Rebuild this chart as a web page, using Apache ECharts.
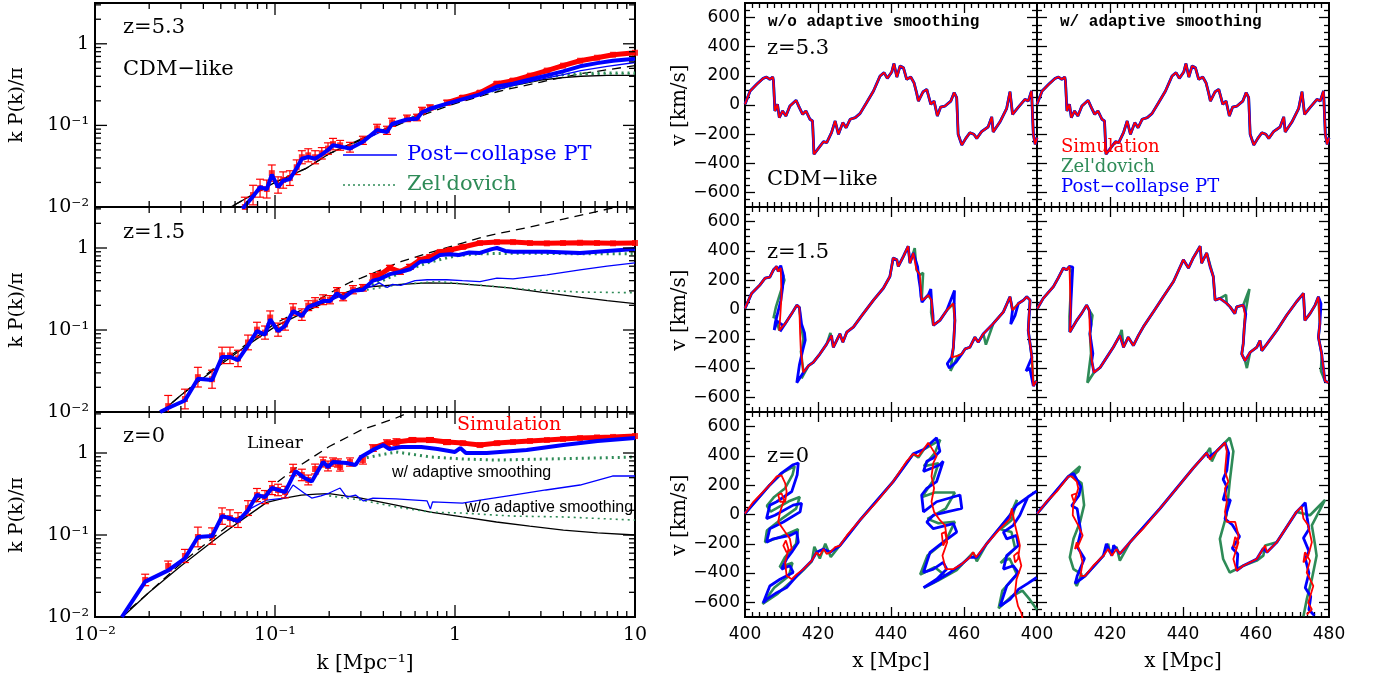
<!DOCTYPE html>
<html><head><meta charset="utf-8">
<script src="https://cdn.jsdelivr.net/npm/echarts@6/dist/echarts.min.js"></script>
<style>html,body{margin:0;padding:0;background:#fff}#c{width:1373px;height:682px}</style>
</head><body><div id="c"></div>
<script>
// ---------------- LEFT COLUMN DATA : k [1/Mpc], k P(k)/pi ----------------
// z = 5.3
const linear53 = [[0.05,0.0085],[0.07,0.013],[0.1,0.02],[0.15,0.03],[0.2,0.045],[0.3,0.066],[0.5,0.105],[0.7,0.14],[1,0.185],[1.5,0.24],[2,0.28],[3,0.34],[4,0.39],[5,0.43],[7,0.48],[10,0.54]];
const zelA53 = [[0.05,0.0085],[0.07,0.013],[0.1,0.02],[0.15,0.03],[0.2,0.045],[0.3,0.068],[0.5,0.11],[0.7,0.15],[1,0.2],[1.5,0.26],[2,0.3],[3,0.36],[4,0.385],[5,0.4],[7,0.41],[10,0.41]];
const sim53 = [[0.068,0.010],[0.0755,0.014],[0.0826,0.017],[0.090,0.0166],[0.096,0.026],[0.104,0.0186],[0.111,0.0214],[0.121,0.0226],[0.132,0.0307],[0.141,0.0407],[0.153,0.043],[0.167,0.0407],[0.182,0.0455],[0.197,0.052],[0.21,0.059],[0.23,0.057],[0.261,0.054],[0.308,0.0656],[0.369,0.092],[0.419,0.087],[0.447,0.109],[0.541,0.122],[0.615,0.125],[0.656,0.152],[0.726,0.166],[0.903,0.19],[1.107,0.219],[1.376,0.252],[1.71,0.325],[2.1,0.354],[2.61,0.407],[3.24,0.47],[3.98,0.54],[4.95,0.62],[6.15,0.675],[7.55,0.734],[10,0.777]];
const err53 = [0.12,0.12,0.11,0.11,0.1,0.1,0.1,0.09,0.09,0.08,0.08,0.08,0.07,0.07,0.07,0.06,0.06,0.05,0.05,0.05,0.05,0.04,0.04,0.04,0.03,0.03,0.025,0.02,0.02,0.02,0.015,0.015,0.01,0.01,0.01,0.01,0.01];
const pcThick53 = [[0.066,0.0095],[0.0755,0.0135],[0.0826,0.0175],[0.09,0.0165],[0.096,0.025],[0.104,0.0175],[0.111,0.021],[0.121,0.022],[0.132,0.03],[0.141,0.039],[0.153,0.041],[0.167,0.039],[0.182,0.044],[0.197,0.05],[0.21,0.057],[0.23,0.055],[0.261,0.052],[0.308,0.063],[0.369,0.088],[0.419,0.083],[0.447,0.104],[0.541,0.118],[0.615,0.121],[0.656,0.145],[0.726,0.16],[0.903,0.185],[1.107,0.21],[1.376,0.24],[1.71,0.3],[2.1,0.325],[2.61,0.365],[3.24,0.41],[3.98,0.46],[4.95,0.53],[6.15,0.58],[7.55,0.62],[10,0.656]];
const pcThin53 = [[0.3,0.063],[0.5,0.11],[0.8,0.165],[1,0.195],[1.5,0.25],[2,0.3],[3,0.37],[4,0.42],[5,0.47],[7,0.53],[10,0.59]];
const zelThick53 = [[0.5,0.11],[1,0.2],[2,0.3],[3,0.38],[4,0.42],[5,0.43],[7,0.44],[10,0.44]];
const zelThin53 = [[0.5,0.11],[1,0.2],[2,0.3],[3,0.37],[4,0.41],[5,0.42],[7,0.43],[10,0.43]];
// z = 1.5
const linear15 = [[0.02,0.0075],[0.03,0.016],[0.05,0.04],[0.07,0.068],[0.1,0.12],[0.15,0.19],[0.2,0.28],[0.26,0.38],[0.3,0.43],[0.5,0.68],[0.7,0.86],[1.1,1.15],[1.5,1.4],[2,1.6],[2.6,1.8],[4,2.25],[7,2.97],[10,3.5]];
const zelA15 = [[0.02,0.0075],[0.03,0.016],[0.05,0.038],[0.07,0.065],[0.1,0.11],[0.15,0.17],[0.2,0.23],[0.25,0.29],[0.3,0.33],[0.5,0.36],[0.7,0.375],[1,0.37],[1.5,0.345],[2,0.327],[3,0.29],[5,0.25],[7,0.228],[10,0.21]];
const sim15 = [[0.0255,0.0118],[0.0316,0.0144],[0.0373,0.0266],[0.0447,0.0251],[0.0508,0.049],[0.0562,0.049],[0.0623,0.045],[0.0708,0.0705],[0.0794,0.101],[0.088,0.093],[0.094,0.142],[0.104,0.101],[0.1137,0.117],[0.126,0.178],[0.141,0.154],[0.153,0.198],[0.167,0.216],[0.185,0.234],[0.202,0.234],[0.221,0.293],[0.239,0.255],[0.271,0.31],[0.308,0.327],[0.35,0.445],[0.383,0.471],[0.435,0.573],[0.495,0.512],[0.562,0.589],[0.64,0.716],[0.726,0.778],[0.826,0.895],[0.938,0.946],[1.107,1.03],[1.376,1.15],[1.71,1.18],[2.1,1.18],[2.61,1.15],[3.24,1.14],[3.98,1.15],[4.95,1.16],[6.15,1.15],[7.55,1.14],[10,1.15]];
const err15 = [0.13,0.12,0.12,0.11,0.1,0.1,0.1,0.09,0.09,0.08,0.08,0.08,0.07,0.07,0.07,0.06,0.06,0.06,0.05,0.05,0.05,0.05,0.04,0.04,0.04,0.03,0.03,0.03,0.03,0.025,0.02,0.02,0.02,0.015,0.015,0.01,0.01,0.01,0.01,0.01,0.01,0.01,0.01];
const pcThick15 = [[0.023,0.01],[0.0255,0.0112],[0.0316,0.0138],[0.0373,0.0255],[0.0447,0.0245],[0.0508,0.047],[0.0562,0.047],[0.0623,0.043],[0.0708,0.065],[0.0794,0.097],[0.088,0.088],[0.094,0.135],[0.104,0.097],[0.1137,0.112],[0.126,0.17],[0.141,0.148],[0.153,0.19],[0.167,0.205],[0.185,0.225],[0.202,0.225],[0.221,0.28],[0.239,0.245],[0.271,0.3],[0.308,0.31],[0.35,0.4],[0.383,0.42],[0.435,0.48],[0.495,0.51],[0.562,0.55],[0.64,0.68],[0.726,0.7],[0.826,0.82],[0.938,0.84],[1.05,0.82],[1.2,0.88],[1.376,0.87],[1.6,0.97],[1.71,1.0],[1.9,0.92],[2.1,0.9],[3.24,0.9],[4.95,0.87],[6.15,0.9],[10,0.97]];
const pcThin15 = [[0.2,0.225],[0.25,0.28],[0.3,0.31],[0.35,0.345],[0.38,0.376],[0.42,0.33],[0.45,0.36],[0.5,0.35],[0.6,0.4],[0.7,0.41],[0.9,0.41],[1.1,0.4],[1.376,0.39],[1.71,0.43],[2.1,0.42],[3.24,0.47],[4.95,0.54],[7,0.6],[10,0.66]];
const zelThick15 = [[0.3,0.31],[0.5,0.5],[0.7,0.66],[1,0.8],[1.376,0.85],[2,0.86],[3,0.86],[5,0.85],[10,0.85]];
const zelThin15 = [[0.3,0.3],[0.5,0.36],[0.8,0.39],[1.2,0.36],[1.5,0.346],[2.6,0.31],[5,0.29],[10,0.285]];
// z = 0
const linear0 = [[0.0135,0.0095],[0.02,0.02],[0.03,0.045],[0.05,0.11],[0.07,0.2],[0.1,0.42],[0.13,0.65],[0.2,1.2],[0.3,1.9],[0.47,2.67],[0.55,3.1],[0.7,3.8]];
const zelA0 = [[0.0135,0.009],[0.02,0.02],[0.03,0.042],[0.05,0.1],[0.07,0.17],[0.09,0.25],[0.113,0.282],[0.14,0.307],[0.17,0.316],[0.2,0.32],[0.3,0.282],[0.47,0.232],[0.73,0.19],[1.1,0.166],[1.7,0.144],[2.6,0.128],[4,0.115],[6.2,0.106],[10,0.1]];
const sim0 = [[0.019,0.0283],[0.0255,0.0419],[0.0316,0.0555],[0.0373,0.0946],[0.0447,0.097],[0.0508,0.17],[0.0562,0.161],[0.0623,0.152],[0.0708,0.213],[0.0794,0.307],[0.088,0.29],[0.0962,0.374],[0.104,0.354],[0.1137,0.334],[0.126,0.62],[0.141,0.54],[0.153,0.469],[0.167,0.638],[0.185,0.776],[0.197,0.694],[0.21,0.776],[0.224,0.755],[0.23,0.675],[0.261,0.776],[0.308,0.822],[0.35,1.15],[0.419,1.32],[0.473,1.36],[0.58,1.44],[0.726,1.44],[0.903,1.36],[1.107,1.32],[1.376,1.25],[1.71,1.32],[2.1,1.36],[2.61,1.4],[3.24,1.44],[3.98,1.48],[4.95,1.52],[6.15,1.55],[7.55,1.57],[10,1.61]];
const err0 = [0.07,0.06,0.08,0.12,0.1,0.1,0.1,0.09,0.09,0.08,0.08,0.08,0.07,0.07,0.07,0.07,0.06,0.06,0.06,0.06,0.05,0.05,0.05,0.05,0.05,0.04,0.04,0.04,0.03,0.03,0.03,0.02,0.02,0.02,0.015,0.015,0.01,0.01,0.01,0.01,0.01,0.01];
const pcThick0 = [[0.0141,0.01],[0.019,0.027],[0.0255,0.037],[0.0316,0.052],[0.0373,0.0946],[0.0447,0.097],[0.0508,0.17],[0.0562,0.16],[0.0623,0.148],[0.0708,0.2],[0.0794,0.307],[0.088,0.29],[0.0962,0.374],[0.1137,0.334],[0.13,0.6],[0.145,0.5],[0.16,0.45],[0.185,0.776],[0.197,0.675],[0.21,0.776],[0.25,0.755],[0.28,0.714],[0.3,0.894],[0.35,1.09],[0.4,1.25],[0.43,1.12],[0.5,1.18],[0.65,1.18],[0.8,1.12],[1.0,1.03],[1.07,1.15],[1.15,1.0],[1.5,1.0],[2.5,1.09],[4,1.25],[6.2,1.4],[10,1.52]];
const pcThin0 = [[0.07,0.2],[0.09,0.267],[0.113,0.282],[0.126,0.407],[0.145,0.325],[0.16,0.282],[0.18,0.3],[0.2,0.325],[0.23,0.374],[0.25,0.29],[0.28,0.307],[0.31,0.26],[0.35,0.282],[0.47,0.275],[0.7,0.26],[0.73,0.207],[0.75,0.253],[1.1,0.245],[1.38,0.267],[2.1,0.307],[3.2,0.354],[4.95,0.407],[7.5,0.524],[10,0.524]];
const zelThick0 = [[0.3,0.85],[0.47,1.03],[0.73,0.894],[1.1,0.845],[1.7,0.82],[3.2,0.845],[6.2,0.87],[10,0.894]];
const zelThin0 = [[0.2,0.3],[0.3,0.267],[0.47,0.22],[0.73,0.19],[1.1,0.185],[2.1,0.17],[4,0.166],[10,0.152]];

// ---------------- RIGHT PANELS DATA : x [Mpc], v [km/s] ----------------
const v53 = [[400,5],[401.4,96],[403.2,142],[405.0,183],[405.9,192],[406.8,176],[407.6,192],[407.8,165],[408.2,-41],[408.9,5],[409.4,-87],[410.3,-41],[411.2,-75],[412.3,-7],[414.0,32],[414.9,-18],[415.8,-64],[416.7,-41],[417.8,-98],[418.5,-110],[418.9,-338],[420.4,-288],[421.5,-252],[422.4,-258],[423.7,-190],[424.7,-110],[425.6,-201],[426.8,-121],[427.7,-156],[428.8,-98],[430.2,-87],[431.5,-59],[433.3,16],[435.2,96],[437.0,199],[438.1,222],[439.0,183],[440.2,226],[440.8,284],[441.6,192],[442.5,268],[443.4,256],[444.3,176],[445.4,192],[446.3,153],[447.0,85],[447.5,27],[448.8,91],[449.8,107],[450.9,5],[451.8,27],[452.7,-75],[453.6,-14],[454.8,-7],[456.4,27],[457.3,85],[458.0,50],[458.4,-201],[459.4,-274],[460.5,-229],[461.6,-190],[462.7,-201],[463.5,-229],[464.8,-183],[466.6,-151],[467.6,-82],[468.0,-185],[469.9,-114],[471.7,-23],[472.6,91],[473.3,-64],[474.9,-14],[476.7,39],[477.6,27],[478.5,96],[479.0,-201],[479.5,-270],[480,-224]];

const v15Lred = [[400,7],[401.8,110],[404.1,168],[405.5,214],[406.8,221],[407.8,271],[408.7,294],[409.1,260],[409.8,283],[410.0,87],[409.4,-143],[411.0,-97],[412.8,-28],[414.2,30],[414.9,14],[415.1,-166],[415.3,-281],[416.0,-430],[417.4,-384],[418.7,-361],[420.5,-304],[422.4,-235],[423.7,-177],[424.2,-258],[425.1,-212],[426.0,-166],[426.8,-223],[427.9,-154],[429.7,-120],[432.4,-28],[435.2,64],[437.9,145],[439.7,225],[440.6,352],[441.6,340],[442.0,294],[443.4,363],[444.7,432],[445.2,317],[446.1,386],[447.0,271],[447.9,237],[448.4,64],[449.3,76],[450.2,99],[451.1,64],[451.6,-108],[453.4,-74],[455.3,-5],[457.1,41],[457.5,-74],[457.1,-258],[456.6,-327],[458.4,-315],[459.4,-304],[460.3,-269],[461.6,-258],[463.0,-189],[463.9,-223],[465.3,-166],[468.0,-97],[470.8,-16],[472.6,87],[473.3,-5],[474.9,41],[476.3,64],[477.2,87],[478.1,64],[477.6,-143],[478.1,-235],[478.6,-327],[479.0,-522],[479.8,-488]];
const v15Lblue = [[400,7],[401.8,110],[404.1,168],[405.5,214],[406.8,221],[407.8,271],[408.7,294],[409.1,260],[409.8,300],[410.5,230],[410.3,150],[409.8,60],[409.0,-20],[408.3,-90],[408.0,-140],[408.8,-80],[410.5,-110],[409.6,-150],[411,-97],[412.8,-28],[414.2,30],[414.9,14],[415.5,-100],[416.3,-160],[416.5,-210],[415.8,-280],[414.9,-380],[414.2,-500],[416,-430],[417.4,-384],[418.7,-361],[420.5,-304],[422.4,-235],[423.7,-177],[424.2,-258],[425.1,-212],[426,-166],[426.8,-223],[427.9,-154],[429.7,-120],[432.4,-28],[435.2,64],[437.9,145],[439.7,225],[440.6,352],[441.6,340],[442,294],[443.4,363],[444.7,432],[445.2,317],[446.1,386],[447.3,290],[447.6,215],[448,150],[448.2,90],[448.5,50],[449.3,76],[450.2,99],[450.9,140],[451.1,64],[451.5,-40],[451.6,-108],[453.4,-74],[455.3,-5],[457.4,130],[457.3,40],[457.5,-74],[457.1,-258],[456.6,-327],[455.4,-370],[456,-400],[457.8,-360],[459.4,-304],[460.3,-269],[461.6,-258],[463,-189],[463.9,-223],[465.3,-166],[468,-97],[470.8,-16],[472.6,87],[473.3,-5],[472.8,-100],[474,-40],[474.9,41],[476.3,64],[477.2,87],[478.1,64],[477.6,-143],[478.1,-235],[478.6,-327],[477,-420],[478,-400],[479.0,-522],[479.8,-488]];
const v15Lgreen = [[400,7],[401.8,110],[404.1,168],[405.5,214],[406.8,221],[407.8,271],[408.7,294],[409.1,260],[409.8,283],[410.8,200],[409.5,100],[408.5,20],[407.8,-60],[408.2,-40],[409.4,-143],[411,-97],[412.8,-28],[414.2,30],[414.9,14],[415.3,-100],[416,-200],[415.5,-300],[415.3,-281],[416,-430],[415.5,-470],[417.4,-384],[418.7,-361],[420.5,-304],[422.4,-235],[423.4,-160],[424.2,-258],[425.1,-212],[426,-166],[426.8,-223],[427.9,-154],[429.7,-120],[432.4,-28],[435.2,64],[437.9,145],[439.7,225],[440.6,352],[441.6,340],[442,294],[443.4,363],[444.7,432],[445.2,317],[446.1,386],[446.5,420],[447,271],[447.9,237],[448.8,250],[448.4,64],[449.3,76],[450.2,99],[451.1,64],[451,-20],[451.6,-108],[453.4,-74],[455.3,-5],[457.1,41],[457.5,-74],[457.1,-258],[456.3,-420],[458.4,-315],[459.4,-304],[460.3,-269],[461.6,-258],[463,-189],[463.9,-223],[465.3,-166],[466,-240],[468,-97],[470.8,-16],[472.6,87],[473.3,-5],[474.9,41],[476.3,64],[477.2,87],[478.1,64],[477.6,-143],[478.1,-235],[478.6,-327],[479,-522],[479.8,-488]];

const v15Rred = [[400.1,7],[401.7,76],[404.5,156],[405.8,214],[407.2,283],[408.1,271],[408.9,294],[409.0,202],[409.2,-5],[409.0,-154],[410.9,-74],[412.2,-28],[413.6,30],[414.3,-5],[414.5,-166],[415.0,-350],[415.6,-430],[417.3,-396],[419.1,-327],[420.9,-258],[422.7,-177],[423.7,-258],[425.0,-189],[426.4,-246],[427.8,-177],[429.1,-120],[431.9,-16],[434.6,87],[437.4,191],[440.1,340],[441.5,283],[442.8,352],[444.7,432],[445.1,317],[446.5,386],[447.4,294],[448.3,225],[448.8,64],[450.1,76],[452.0,41],[452.9,18],[454.2,-28],[454.7,18],[456.5,30],[457.0,-39],[456.5,-235],[456.1,-304],[457.0,-350],[458.4,-292],[460.2,-258],[461.1,-212],[461.6,-281],[463.0,-235],[465.7,-143],[468.4,-39],[471.1,53],[473.0,110],[473.4,-74],[474.8,-28],[476.2,30],[477.1,87],[477.5,-97],[477.1,-189],[478.0,-304],[478.9,-488],[479.8,-499]];
const v15Rblue = [[400.1,7],[401.7,76],[404.5,156],[405.8,214],[407.2,283],[408.1,271],[408.9,294],[409.8,290],[409.6,200],[409.3,50],[409.0,-154],[410.9,-74],[412.2,-28],[413.6,30],[414.3,-5],[414.8,-100],[414.5,-166],[415.3,-300],[415,-350],[415.6,-430],[417.3,-396],[419.1,-327],[420.9,-258],[422.7,-177],[423.7,-258],[425,-189],[426.4,-246],[427.8,-177],[429.1,-120],[431.9,-16],[434.6,87],[437.4,191],[440.1,340],[441.5,283],[442.8,352],[444.7,432],[445.1,317],[446.5,386],[447.4,294],[448.3,225],[448.8,64],[450.1,76],[452,41],[452.9,18],[454.2,-28],[454.7,18],[456.5,30],[457.2,-30],[456.8,-120],[456.5,-235],[456.1,-304],[457,-350],[458.4,-292],[460.2,-258],[461.1,-212],[461.6,-281],[463,-235],[465.7,-143],[468.4,-39],[471.1,53],[473,110],[473.4,-74],[474.8,-28],[476.2,30],[477.1,87],[477.8,40],[477.5,-97],[477.1,-189],[478,-304],[478.9,-488],[479.8,-499]];
const v15Rgreen = [[400.1,7],[401.7,76],[404.5,156],[405.8,214],[407.2,283],[408.1,271],[408.9,294],[409.5,250],[409.2,100],[408.9,-50],[409.0,-154],[410.9,-74],[412.2,-28],[413.6,30],[414.3,-5],[415.2,-40],[414.5,-166],[414.8,-300],[413.8,-500],[415.6,-430],[417.3,-396],[419.1,-327],[420.9,-258],[422.7,-177],[423.2,-140],[423.7,-258],[425,-189],[426.4,-246],[427.8,-177],[429.1,-120],[431.9,-16],[434.6,87],[437.4,191],[440.1,340],[441.5,283],[442.8,352],[444.7,432],[445.1,317],[446.5,386],[447.8,270],[448.3,225],[448.8,64],[450.1,76],[451.8,100],[452,41],[452.9,18],[454.2,-28],[454.7,18],[456.5,30],[458.2,140],[457,-39],[456.5,-235],[456.1,-304],[457,-350],[457.5,-400],[458.4,-292],[460.2,-258],[461.1,-212],[461.6,-281],[463,-235],[465.7,-143],[468.4,-39],[471.1,53],[473,110],[473.4,-74],[474.8,-28],[476.2,30],[477.1,87],[477.5,-97],[477.1,-189],[478,-304],[477.8,-420],[478.9,-488],[479.8,-499]];

const v0Lred = [[400,7],[402.3,87],[405.0,156],[406.8,202],[408.7,260],[410.0,267],[411.0,214],[411.4,156],[411.0,87],[409.6,87],[409.1,133],[410.0,145],[410.7,99],[409.6,18],[409.1,-51],[411.0,-120],[412.3,-166],[412.8,-235],[411.4,-258],[410.5,-212],[411.2,-177],[411.9,-235],[411.0,-327],[411.4,-419],[412.8,-442],[414.2,-407],[416.0,-373],[418.3,-315],[419.6,-258],[420.5,-281],[421.5,-235],[422.4,-269],[423.3,-258],[424.7,-223],[426.0,-212],[427.9,-143],[431.5,-39],[436.1,87],[440.6,225],[444.3,363],[446.1,414],[447.5,398],[448.9,444],[450.2,490],[451.1,455],[452.5,398],[451.6,352],[451.1,260],[451.8,179],[451.1,87],[451.8,18],[453.4,-39],[454.8,-74],[455.3,-166],[454.3,-212],[453.9,-131],[454.8,-120],[455.4,-189],[454.1,-281],[455.0,-373],[457.1,-373],[459.4,-338],[461.6,-292],[462.5,-258],[463.3,-292],[466.2,-200],[469.9,-97],[472.6,-28],[473.1,41],[474.0,-74],[474.9,-166],[475.3,-212],[474.8,-304],[474.0,-327],[473.7,-281],[474.8,-258],[475.7,-350],[474.4,-442],[474.0,-534],[474.8,-626],[475.7,-672],[476.1,-718]];
const v0Lblue = [[400,7],[406.8,202],[410.0,283],[413.2,340],[414.6,352],[414.3,271],[412.8,156],[411.4,133],[408.7,87],[406.8,64],[405.9,-28],[408.2,-5],[413.2,64],[415.5,76],[415.1,18],[410.5,-51],[406.8,-97],[405.9,-189],[407.8,-166],[412.3,-143],[414.2,-120],[414.6,-189],[412.8,-258],[411.4,-304],[410.0,-373],[412.3,-350],[413.2,-396],[409.6,-442],[406.8,-488],[405.0,-603],[405.9,-580],[408.7,-534],[411.4,-499],[414.2,-419],[416.0,-373],[418.3,-315],[419.6,-258],[421.5,-235],[423.3,-258],[426.0,-212],[431.5,-39],[440.6,225],[446.1,414],[448.9,444],[452.5,524],[453.4,432],[451.6,386],[449.8,363],[448.9,294],[453.4,340],[454.3,363],[452.5,225],[449.8,179],[448.4,133],[448.9,18],[452.5,87],[458.9,133],[459.4,41],[455.3,18],[451.6,-5],[449.8,-51],[451.6,-97],[457.1,-62],[458.0,-120],[454.3,-189],[450.7,-258],[449.8,-327],[448.9,-396],[451.6,-373],[454.3,-327],[455.3,-373],[452.5,-442],[448.9,-499],[451.6,-465],[456.2,-396],[459.4,-338],[461.6,-292],[463.5,-292],[466.2,-200],[472.6,-5],[474.4,64],[477,110],[479.9,160],[477.5,120],[475.3,-5],[473.5,-74],[470.8,-120],[471.7,-166],[474.4,-143],[474.9,-212],[471.7,-281],[470.8,-373],[473.5,-350],[474.9,-396],[471.7,-488],[469.9,-626],[472.6,-580],[474.9,-511],[477.5,-470],[479.9,-430]];
const v0Lgreen = [[400,7],[406.8,202],[410.5,290],[413.6,330],[413,270],[411,180],[408,120],[406,60],[407,20],[412,90],[415,120],[414,40],[410,-30],[406,-110],[405.5,-190],[410,-150],[414.5,-100],[414,-200],[411,-290],[409.5,-360],[413,-330],[412,-420],[408,-500],[404.8,-610],[409,-540],[413,-450],[416,-380],[418.3,-320],[419,-220],[420.5,-300],[422,-200],[423.5,-290],[426,-212],[431.5,-39],[440.6,225],[446.1,414],[447.5,390],[449,444],[453.5,510],[452,420],[449,330],[453,350],[451.5,230],[448.5,120],[452,150],[457.5,150],[455,40],[450,-30],[453,-60],[457.5,-50],[455,-180],[450,-280],[448,-410],[452,-360],[455,-420],[449,-500],[453,-450],[458,-380],[462.5,-260],[463.5,-320],[466.2,-200],[472.6,-5],[474.5,100],[473,-40],[470,-100],[473,-120],[474,-230],[470,-330],[472.5,-300],[474.5,-410],[470.5,-520],[469.5,-640],[473,-560],[476,-520],[478,-580],[480,-650]];

const v0Rred = [[400.1,7],[402.6,87],[405.4,156],[408.6,260],[409.5,260],[410.9,225],[411.3,179],[410.2,80],[409.5,133],[410.9,145],[409.9,64],[409.8,-5],[411.3,-74],[412.5,-143],[411.3,-212],[410.4,-235],[410.9,-189],[411.8,-258],[412.5,-327],[411.9,-419],[413.2,-419],[415.4,-350],[418.2,-281],[419.5,-235],[420.5,-281],[421.8,-235],[422.7,-269],[425.5,-189],[429.1,-97],[433.7,41],[438.3,179],[442.8,317],[446.5,421],[447.4,375],[449.2,432],[451.5,490],[452.0,432],[451.5,294],[452.4,225],[451.5,179],[452.0,87],[451.5,18],[452.0,-51],[454.3,-51],[455.2,-143],[454.7,-235],[453.8,-212],[454.3,-154],[455.2,-189],[453.8,-304],[454.7,-384],[456.5,-350],[460.2,-304],[462.5,-212],[463.0,-258],[465.7,-189],[471.1,18],[472.5,53],[473.0,-28],[474.3,-74],[475.3,-189],[474.3,-281],[473.0,-327],[473.4,-258],[474.8,-315],[473.9,-396],[475.7,-488],[474.3,-603],[475.3,-649],[473.9,-683]];
const v0Rblue = [[400,7],[408.6,260],[410,280],[412,190],[411.5,130],[409.5,60],[411,40],[412,-120],[411,-220],[413,-300],[411,-420],[410.5,-470],[413.2,-419],[418.2,-281],[419,-200],[420.5,-281],[421,-210],[422.7,-269],[425.5,-189],[433.7,41],[442.8,317],[446.5,421],[447,390],[449.2,432],[451.5,490],[452.5,420],[452,300],[451,240],[452,190],[451,100],[453,100],[452,20],[451.5,-30],[453.5,-70],[455.5,-150],[453.5,-230],[455,-270],[454.7,-384],[456.5,-350],[460.2,-304],[462,-230],[463,-258],[465.7,-189],[471.1,18],[472.5,53],[473.5,80],[474,-20],[474.5,-100],[473,-160],[474.5,-250],[473.5,-300],[474.5,-400],[473.5,-500],[475,-560],[474.5,-650],[476,-690]];
const v0Rgreen = [[400.1,7],[408.6,260],[411.8,329],[411.3,294],[409.5,260],[412.2,214],[412.9,64],[411.8,-51],[410.0,-166],[409.0,-292],[410.0,-373],[412.2,-407],[410.9,-488],[410.4,-465],[413.2,-419],[418.2,-281],[419.5,-200],[419.9,-258],[421.8,-223],[422.7,-315],[425.5,-189],[433.7,41],[442.8,317],[446.5,421],[447.4,455],[447.9,363],[449.2,432],[452.8,524],[453.8,432],[452.8,225],[451.9,-5],[450.1,-166],[451.0,-304],[452.8,-396],[456.5,-350],[460.2,-315],[462.0,-281],[462.5,-212],[465.7,-189],[471.1,18],[474.8,-5],[478.9,99],[475.3,-74],[476.2,-212],[476.6,-281],[475.3,-442],[473.9,-580],[473.0,-695]];

// ---------------- AXIS TICK VALUES ----------------
const logMantissas = [1,2,3,4,5,6,7,8,9];
const kDecades = [0.01, 0.1, 1];
const pDecades = [0.01, 0.1, 1];
const kLabels = {'-2':'10⁻²','-1':'10⁻¹','0':'1','1':'10'};

// ---------------- BUILD ----------------
const SERIF = 'DejaVu Serif';
const SANS = 'DejaVu Sans';
const RED = '#ff0000', BLUE = '#0000ff', GREEN = '#2e8b57';
const rows = [{top:3,h:204},{top:207,h:205},{top:412,h:205}];
const grid = [], xAxis = [], yAxis = [], series = [];
const PMAX = 3.1623;
const TICK_LINE = {color:'#000', width:1.3};

function fmtPow(v){
  const l = Math.log10(v), e = Math.round(l);
  if (Math.abs(l-e) > 1e-6) return '';
  return kLabels[String(e)] || '';
}
function ln(ax, data, color, width, type, z){
  return {type:'line', xAxisIndex:ax.x, yAxisIndex:ax.y, data, showSymbol:false, symbol:'none',
    lineStyle:{color, width, type:type||'solid'}, z:z||2, silent:true, emphasis:{disabled:true}};
}
function errSeries(ax, sim, err){
  const data = sim.map((p,i)=>[p[0], p[1], p[1]/Math.pow(10,err[i]), p[1]*Math.pow(10,err[i])]);
  return {type:'custom', xAxisIndex:ax.x, yAxisIndex:ax.y, silent:true, z:4, clip:true, data,
    renderItem(p, api){
      const k = api.value(0);
      const a = api.coord([k, api.value(2)]), b = api.coord([k, api.value(3)]);
      const st = {stroke:RED, lineWidth:1.2};
      return {type:'group', children:[
        {type:'line', shape:{x1:a[0],y1:a[1],x2:b[0],y2:b[1]}, style:st},
        {type:'line', shape:{x1:a[0]-4,y1:a[1],x2:a[0]+4,y2:a[1]}, style:st},
        {type:'line', shape:{x1:b[0]-4,y1:b[1],x2:b[0]+4,y2:b[1]}, style:st}]};
    }};
}
// log-panel ticks (inward, all four sides), built like the error bars: one item per tick, placed by api.coord
function logTickSeries(ax, xt, yt, xr, yr, maj, mnr){
  const data = [];
  xt.forEach(t => data.push([t[0], 0.1, t[1] ? maj : mnr, 0]));
  yt.forEach(t => data.push([0.3, t[0], t[1] ? maj : mnr, 1]));
  return {type:'custom', xAxisIndex:ax.x, yAxisIndex:ax.y, silent:true, z:10, clip:true, data,
    renderItem(p, api){
      const len = api.value(2);
      const st = {stroke:'#000', lineWidth:1.3};
      if (api.value(3) < 0.5) {
        const a = api.coord([api.value(0), yr[0]]), b = api.coord([api.value(0), yr[1]]);
        return {type:'group', children:[
          {type:'line', shape:{x1:a[0],y1:a[1],x2:a[0],y2:a[1]-len}, style:st},
          {type:'line', shape:{x1:b[0],y1:b[1],x2:b[0],y2:b[1]+len}, style:st}]};
      }
      const a = api.coord([xr[0], api.value(1)]), b = api.coord([xr[1], api.value(1)]);
      return {type:'group', children:[
        {type:'line', shape:{x1:a[0],y1:a[1],x2:a[0]+len,y2:a[1]}, style:st},
        {type:'line', shape:{x1:b[0],y1:b[1],x2:b[0]-len,y2:b[1]}, style:st}]};
    }};
}
// value-panel ticks: main axis (data + labels + major ticks), mirrored major axis, minor-tick axes on both sides
function addAxes(list, dim, gridIndex, base, majVals, minVals, majLen, minLen, label){
  const positions = dim === 'x' ? ['bottom','top'] : ['left','right'];
  const mainIndex = list.length;
  positions.forEach((pos, pi) => {
    [[majVals, majLen], [minVals, minLen]].forEach((pair, vi) => {
      list.push(Object.assign({}, base, {gridIndex, position:pos, offset:0,
        axisLine:{show:false, onZero:false}, splitLine:{show:false}, minorTick:{show:false}, splitArea:{show:false},
        axisTick:{show:true, inside:true, length:pair[1], customValues:pair[0], lineStyle:TICK_LINE},
        axisLabel:(pi===0 && vi===0) ? label : {show:false}}));
    });
  });
  return mainIndex;
}

const kTicks = [];
kDecades.forEach(d => logMantissas.forEach(m => { if (m*d > 0.0101) kTicks.push([m*d, m===1]); }));
const pTicks = [];
pDecades.forEach(d => logMantissas.forEach(m => { if (m*d > 0.0101 && m*d < PMAX) pTicks.push([m*d, m===1]); }));

const leftPanels = [
  {lin:linear53, zA:zelA53, sim:sim53, err:err53, pw:pcThick53, po:pcThin53, zw:zelThick53, zo:zelThin53, band:0.9},
  {lin:linear15, zA:zelA15, sim:sim15, err:err15, pw:pcThick15, po:pcThin15, zw:zelThick15, zo:zelThin15, band:0.33},
  {lin:linear0,  zA:zelA0,  sim:sim0,  err:err0,  pw:pcThick0,  po:pcThin0,  zw:zelThick0,  zo:zelThin0,  band:0.33}
];
leftPanels.forEach((P, i) => {
  const g = grid.length;
  grid.push({left:95, top:rows[i].top, width:540, height:rows[i].h, show:true, borderColor:'#000', borderWidth:2, backgroundColor:'transparent'});
  const ax = {x:xAxis.length, y:yAxis.length};
  xAxis.push({type:'log', gridIndex:g, min:0.01, max:10, logBase:10, splitNumber:3, position:'bottom',
    axisLine:{show:false, onZero:false}, axisTick:{show:false}, splitLine:{show:false}, minorTick:{show:false},
    axisLabel:{show:i===2, formatter:fmtPow, fontFamily:SERIF, fontSize:19, color:'#000', margin:9}});
  yAxis.push({type:'log', gridIndex:g, min:0.01, max:PMAX, logBase:10, splitNumber:3, position:'left',
    axisLine:{show:false, onZero:false}, axisTick:{show:false}, splitLine:{show:false}, minorTick:{show:false},
    axisLabel:{formatter:fmtPow, showMaxLabel:false, fontFamily:SERIF, fontSize:19, color:'#000', margin:6}});
  series.push(ln(ax, P.lin, '#000', 1.3, [9,6], 2));
  series.push(ln(ax, P.zA, '#000', 1.3, 'solid', 2));
  series.push(ln(ax, P.zo, GREEN, 1.6, [2,4], 3));
  series.push(ln(ax, P.zw, GREEN, 3, [2,4], 3));
  series.push(ln(ax, P.po, BLUE, 1.3, 'solid', 3));
  series.push(errSeries(ax, P.sim, P.err));
  series.push({type:'scatter', xAxisIndex:ax.x, yAxisIndex:ax.y, data:P.sim, symbol:'rect', symbolSize:6, itemStyle:{color:RED}, z:5, silent:true});
  series.push(ln(ax, P.sim.filter(p => p[0] >= P.band), RED, 5, 'solid', 5));
  series.push(ln(ax, P.pw, BLUE, 4, 'solid', 6));
  series.push(logTickSeries(ax, kTicks, pTicks, [0.01, 10], [0.01, PMAX], 12, 6));
});

const xMajR = [], xMinR = [], yMajR = [], yMinR = [];
for (let x = 402; x < 480; x += 2) ((x-400)%20===0 ? xMajR : xMinR).push(x);
for (let v = -650; v < 700; v += 50) (v%200===0 ? yMajR : yMinR).push(v);
const rightPanels = [
  [{r:v53, b:v53, g:v53}, {r:v53, b:v53, g:v53}],
  [{r:v15Lred, b:v15Lblue, g:v15Lgreen}, {r:v15Rred, b:v15Rblue, g:v15Rgreen}],
  [{r:v0Lred, b:v0Lblue, g:v0Lgreen}, {r:v0Rred, b:v0Rblue, g:v0Rgreen}]
];
rightPanels.forEach((row, r) => row.forEach((P, c) => {
  const g = grid.length;
  grid.push({left: c===0?745:1037, top:rows[r].top, width:292, height:rows[r].h, show:true, borderColor:'#000', borderWidth:2, backgroundColor:'transparent'});
  const ax = {
    x: addAxes(xAxis, 'x', g, {type:'value', min:400, max:480, interval:20}, xMajR, xMinR, 10, 5,
         {show:r===2, showMaxLabel:c===1, fontFamily:SANS, fontSize:17, color:'#000', margin:9}),
    y: addAxes(yAxis, 'y', g, {type:'value', min:-700, max:700, interval:100}, yMajR, yMinR, 10, 5,
         {show:c===0, fontFamily:SANS, fontSize:17, color:'#000', margin:5,
          formatter: v => (v%200===0 && Math.abs(v)<=600) ? String(v).replace('-', '−') : ''})
  };
  series.push(ln(ax, P.g, GREEN, 2.6, 'solid', 2));
  series.push(ln(ax, P.b, BLUE, 2.8, 'solid', 3));
  series.push(ln(ax, P.r, RED, 1.8, 'solid', 4));
}));

function T(text, x, y, size, opt){
  opt = opt || {};
  return {type:'text', x, y, rotation: opt.rot || 0, z:50, silent:true,
    style:{text, fill: opt.color || '#000', font: (opt.bold?'bold ':'') + size + "px '" + (opt.family || SERIF) + "'",
      textAlign: opt.align || 'left', textVerticalAlign:'middle', align: opt.align || 'left', verticalAlign:'middle'}};
}
const graphic = [
  T('z=5.3', 123, 28, 21), T('CDM−like', 123, 70, 21),
  T('Post−collapse PT', 407, 155, 21, {color:BLUE}), T("Zel'dovich", 407, 185, 21, {color:GREEN}),
  {type:'line', z:50, silent:true, shape:{x1:343,y1:155,x2:397,y2:155}, style:{stroke:BLUE, lineWidth:1.5}},
  {type:'line', z:50, silent:true, shape:{x1:343,y1:185,x2:397,y2:185}, style:{stroke:GREEN, lineWidth:1.5, lineDash:[2,3]}},
  T('z=1.5', 123, 233, 21), T('z=0', 123, 437, 21),
  T('Linear', 247, 444, 17), T('Simulation', 457, 425, 19, {color:RED}),
  T('w/ adaptive smoothing', 392, 473, 16, {family:'Liberation Sans'}),
  T('w/o adaptive smoothing', 465, 508, 16, {family:'Liberation Sans'}),
  T('k P(k)/π', 17, 105, 19, {rot:Math.PI/2, align:'center'}),
  T('k P(k)/π', 17, 310, 19, {rot:Math.PI/2, align:'center'}),
  T('k P(k)/π', 17, 515, 19, {rot:Math.PI/2, align:'center'}),
  T('k [Mpc⁻¹]', 365, 664, 20, {align:'center'}),
  T('w/o adaptive smoothing', 768, 22, 16, {family:'Liberation Mono', bold:true}),
  T('w/ adaptive smoothing', 1060, 22, 16, {family:'Liberation Mono', bold:true}),
  T('z=5.3', 767, 49, 21), T('CDM−like', 767, 180, 21),
  T('Simulation', 1061, 147, 18, {color:RED}), T("Zel'dovich", 1061, 167, 18, {color:GREEN}),
  T('Post−collapse PT', 1061, 187, 18, {color:BLUE}),
  T('z=1.5', 767, 253, 21), T('z=0', 767, 457, 21),
  T('v [km/s]', 680, 105, 20, {rot:Math.PI/2, align:'center'}),
  T('v [km/s]', 680, 310, 20, {rot:Math.PI/2, align:'center'}),
  T('v [km/s]', 680, 515, 20, {rot:Math.PI/2, align:'center'}),
  T('x [Mpc]', 891, 662, 20, {align:'center'}),
  T('x [Mpc]', 1183, 662, 20, {align:'center'})
];

const chart = echarts.init(document.getElementById('c'), null, {renderer:'canvas'});
chart.setOption({animation:false, backgroundColor:'#fff', grid, xAxis, yAxis, series, graphic});
</script></body></html>
